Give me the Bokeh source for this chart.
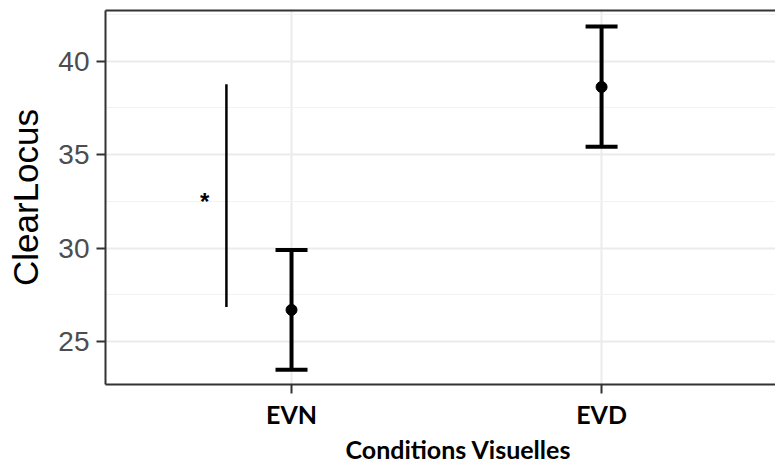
from bokeh.plotting import figure
from bokeh.models import Range1d, FixedTicker, LinearAxis, Title, Whisker, ColumnDataSource, TeeHead
from bokeh.embed import file_html
from bokeh.resources import INLINE
from bokeh.core.properties import value

categories = ["EVN", "EVD"]
means = [26.70, 38.62]
lower = [23.50, 35.43]
upper = [29.90, 41.86]
sig_x = [0.79]
sig_y0 = [26.86]
sig_y1 = [38.76]
star_x = [0.72]
star_y = [32.5]
star_text = ["*"]
y_ticks = [25, 30, 35, 40]
y_minor = [27.5, 32.5, 37.5, 42.5]

pos = [i + 1 for i in range(len(categories))]

p = figure(width=775, height=463, output_backend="svg", toolbar_location=None,
           x_range=Range1d(0.4, 2.561), y_range=Range1d(22.71, 42.71),
           min_border_left=105, min_border_right=0, min_border_top=10,
           min_border_bottom=10)
p.outline_line_color = None
p.background_fill_color = "white"
p.border_fill_color = "white"

# grids
p.ygrid.ticker = FixedTicker(ticks=y_ticks, minor_ticks=y_minor)
p.ygrid.grid_line_color = "#EBEBEB"
p.ygrid.grid_line_width = 2
p.ygrid.minor_grid_line_color = "#F2F2F2"
p.ygrid.minor_grid_line_width = 1
p.xgrid.grid_line_color = "#EBEBEB"
p.xgrid.grid_line_width = 2

# y axis
ya = p.yaxis[0]
ya.ticker = FixedTicker(ticks=y_ticks, minor_ticks=y_minor)
ya.axis_line_color = "#333333"
ya.axis_line_width = 2
ya.major_tick_line_color = "#333333"
ya.major_tick_line_width = 2
ya.major_tick_out = 9
ya.major_tick_in = 0
ya.minor_tick_line_color = None
ya.major_label_text_font = "Liberation Sans"
ya.major_label_text_font_size = "28px"
ya.major_label_text_color = "#4D4D4D"
ya.major_label_standoff = 7
ya.axis_label = "ClearLocus"
ya.axis_label_text_font = "Liberation Sans"
ya.axis_label_text_font_size = "35px"
ya.axis_label_text_font_style = "normal"
ya.axis_label_text_color = "black"
ya.axis_label_standoff = 10

# x axis
xa = p.xaxis[0]
xa.ticker = FixedTicker(ticks=pos)
xa.major_label_overrides = {k: c for k, c in zip(pos, categories)}
xa.axis_line_color = "#333333"
xa.axis_line_width = 2
xa.major_tick_line_color = "#333333"
xa.major_tick_line_width = 2
xa.major_tick_out = 9
xa.major_tick_in = 0
xa.minor_tick_line_color = None
xa.major_label_text_font = "Lato"
xa.major_label_text_font_style = "bold"
xa.major_label_text_font_size = "25px"
xa.major_label_text_color = "black"
xa.major_label_standoff = 5

p.add_layout(Title(text="Conditions Visuelles", text_font="Lato", text_font_style="bold",
                   text_font_size="25px", text_color="black", align="left", offset=240,
                   standoff=0), "below")

# top border
top = LinearAxis(ticker=FixedTicker(ticks=[]), axis_line_color="#333333", axis_line_width=2,
                 major_tick_out=0, major_tick_in=0, minor_tick_line_color=None,
                 major_label_text_font_size="0px", major_label_standoff=0)
p.add_layout(top, "above")

src = ColumnDataSource(dict(x=pos, m=means, lo=lower, hi=upper))
w = Whisker(base="x", lower="lo", upper="hi", source=src, dimension="height",
            line_width=4, line_color="black",
            upper_head=TeeHead(size=32, line_width=4, line_color="black"),
            lower_head=TeeHead(size=32, line_width=4, line_color="black"))
p.add_layout(w)
p.scatter("x", "m", source=src, size=11, color="black")

p.segment(x0=sig_x, y0=sig_y0, x1=sig_x, y1=sig_y1, line_width=2.5, line_color="black")
p.text(x=star_x, y=star_y, text=star_text, text_align="center", text_baseline="middle",
       text_font=value("Liberation Sans"), text_font_style="bold", text_font_size="24px",
       text_color="black")

open("out.html", "w").write(file_html(p, INLINE))
